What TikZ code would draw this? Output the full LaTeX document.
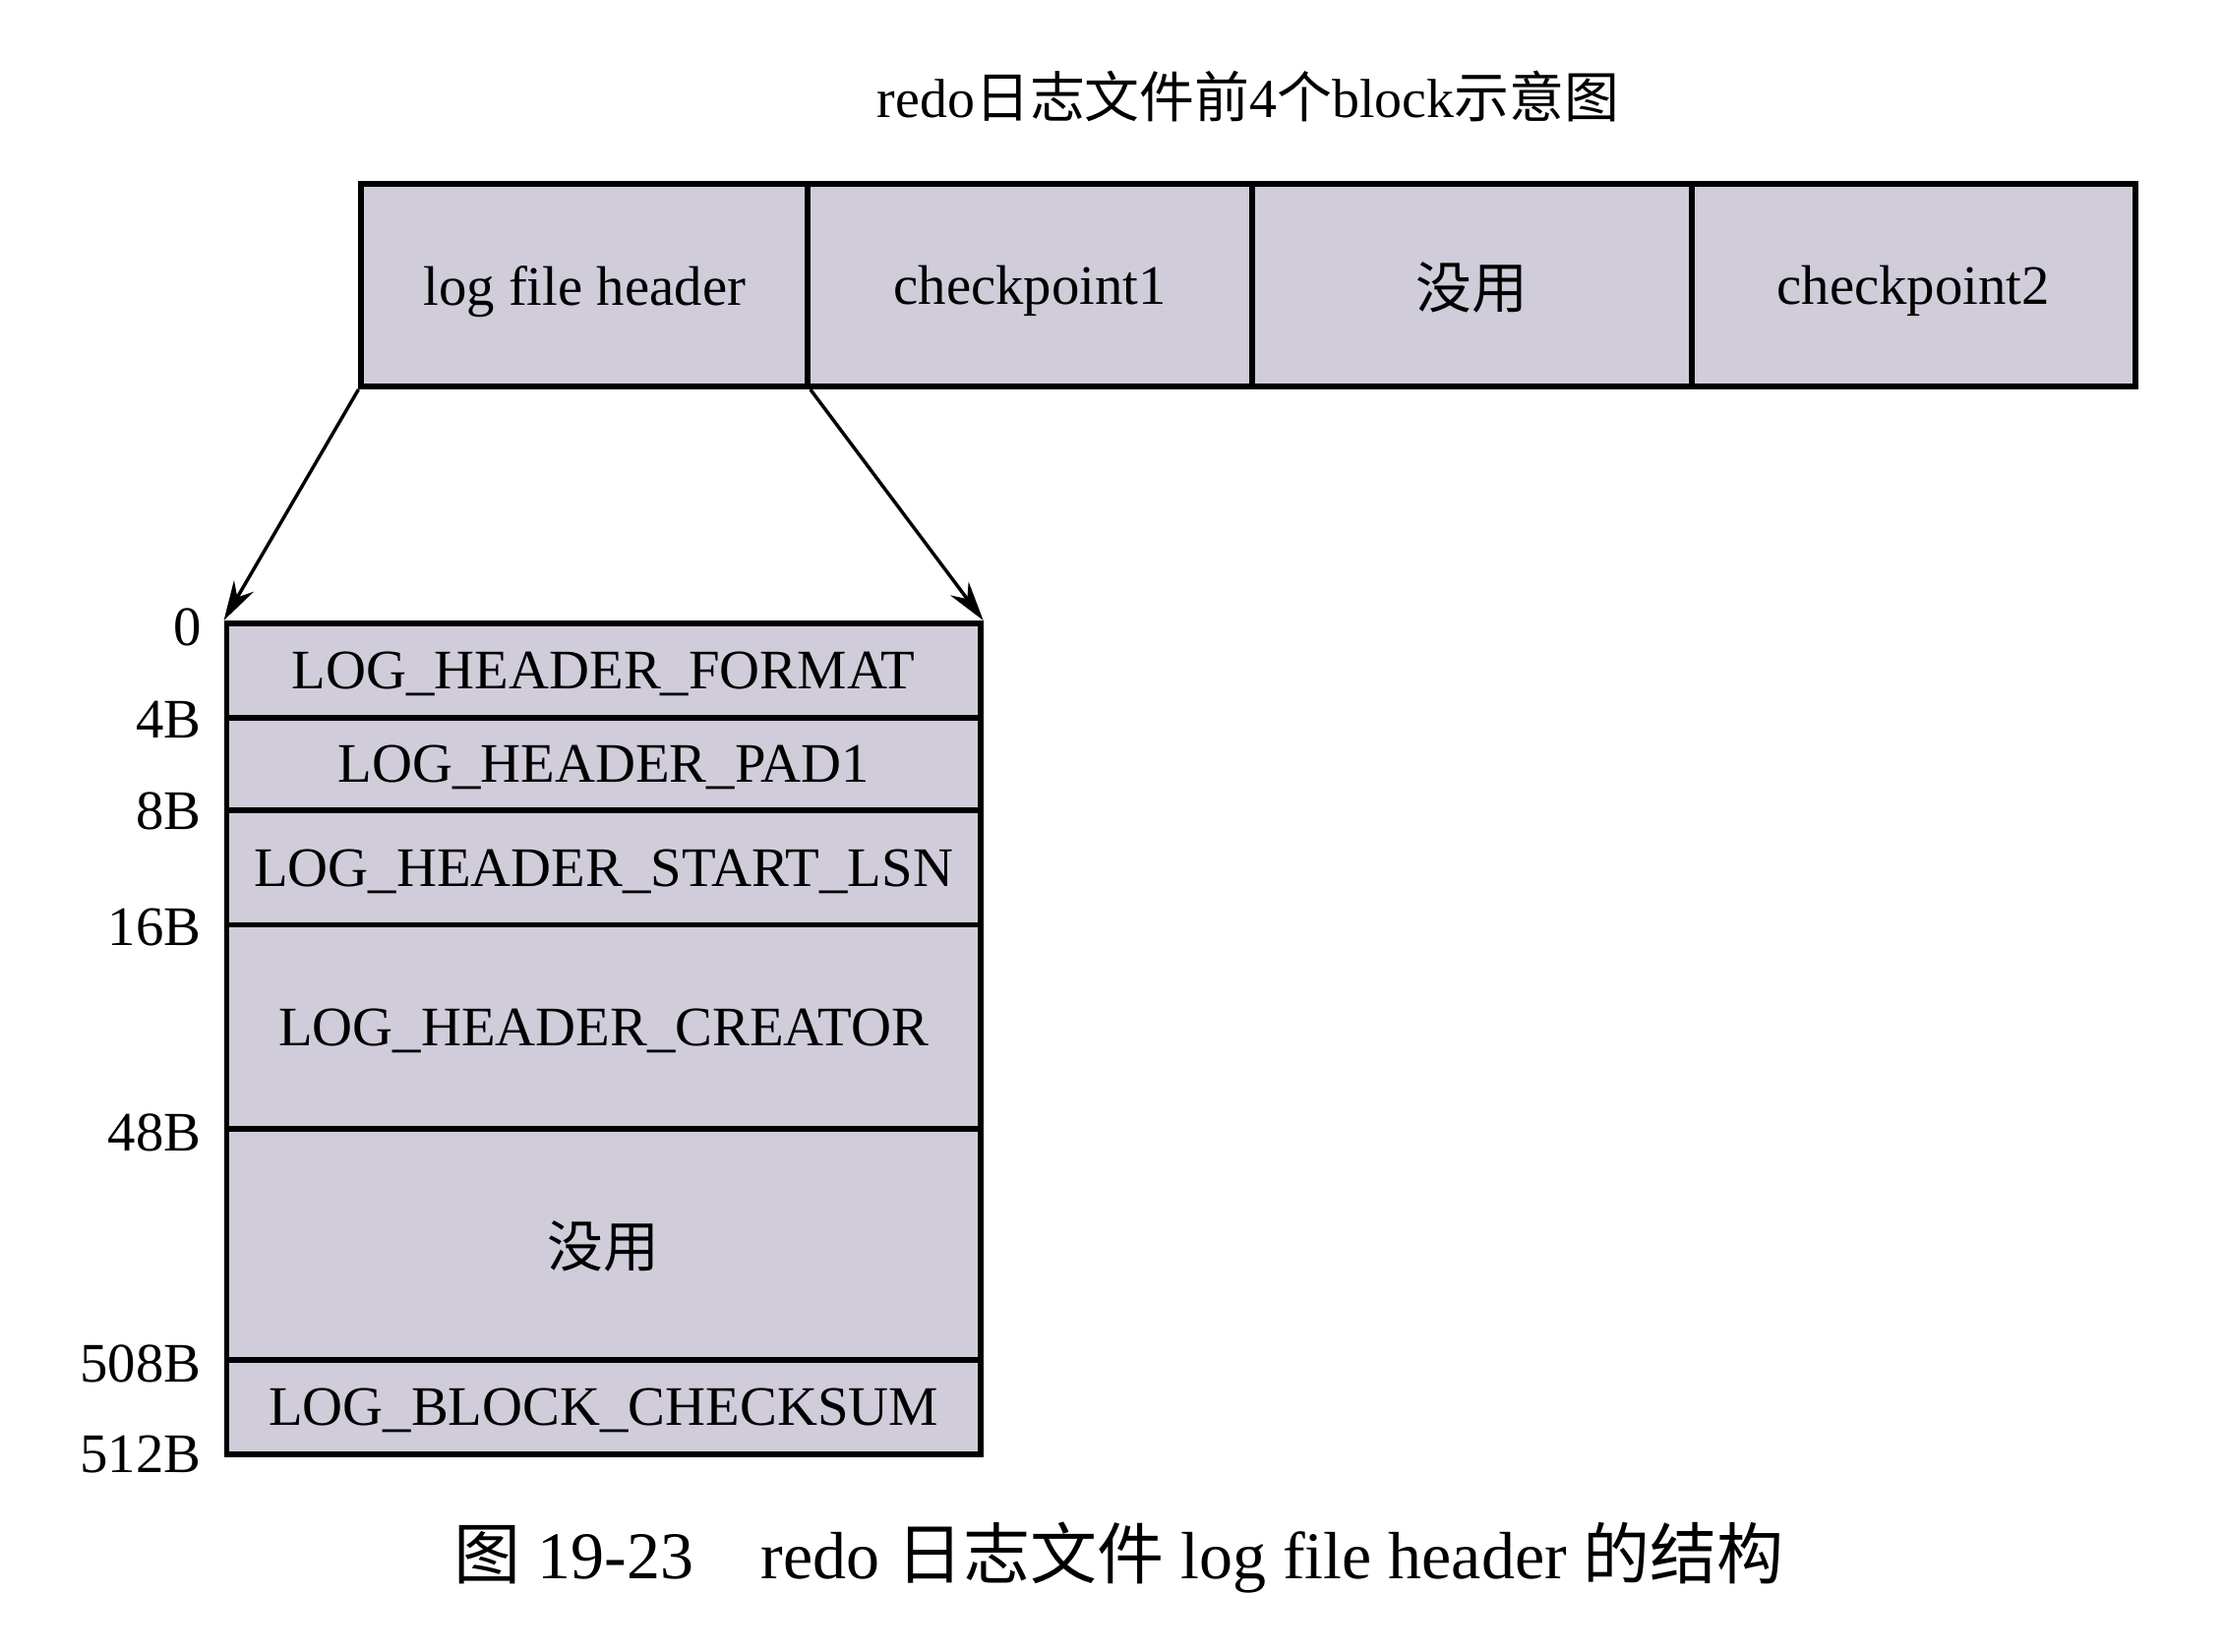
\documentclass[tikz,border=0pt]{standalone}
\usepackage{fontspec}
\setmainfont{Liberation Serif}
\newfontfamily\cjk{Noto Sans CJK SC}
\usetikzlibrary{arrows.meta}
\definecolor{blkfill}{RGB}{209,204,217}
\tikzset{every picture/.style={line width=1pt}}

\begin{document}
\begin{tikzpicture}[x=0.5pt,y=0.5pt,yscale=-1,
  blk/.style={draw, line width=2pt, fill=blkfill, inner sep=0pt, text depth=0pt, font=\fontsize{19.7}{19.7}\selectfont},
  offlbl/.style={anchor=east, inner sep=0pt, font=\fontsize{19.7}{19.7}\selectfont},
  zoomarrow/.style={-{Stealth[length=14pt,width=8pt]}, line width=1.2pt}]
\useasboundingbox (0,0) rectangle (1569,1166);
%Text: title
\node[font=\fontsize{19.4}{19.4}\selectfont] (title) at (881,68) {redo{\cjk 日志文件前}4{\cjk 个}block{\cjk 示意图}};
%Shape: first four blocks
\node[blk, minimum width=157.5pt, minimum height=71.5pt] (hdr) at (412.5,201.5) {log file header};
\node[blk, minimum width=157pt, minimum height=71.5pt] (cpa) at (727,201.5) {checkpoint1};
\node[blk, minimum width=155pt, minimum height=71.5pt] (unused) at (1039,201.5) {\cjk 没用};
\node[blk, minimum width=156.5pt, minimum height=71.5pt] (cpb) at (1350.5,201.5) {checkpoint2};
%Shape: log file header fields
\node[blk, minimum width=266pt, minimum height=33.5pt] (fmt) at (426,473.5) {LOG\_HEADER\_FORMAT};
\node[blk, minimum width=266pt, minimum height=32.5pt] (pad) at (426,539.5) {LOG\_HEADER\_PAD1};
\node[blk, minimum width=266pt, minimum height=40.5pt] (lsn) at (426,612.5) {LOG\_HEADER\_START\_LSN};
\node[blk, minimum width=266pt, minimum height=72pt] (crt) at (426,725) {LOG\_HEADER\_CREATOR};
\node[blk, minimum width=266pt, minimum height=81.5pt] (nouse) at (426,878.5) {\cjk 没用};
\node[blk, minimum width=266pt, minimum height=33.5pt] (csum) at (426,993.5) {LOG\_BLOCK\_CHECKSUM};
%Text: offsets
\node[offlbl] (o0) at (143,443) {0};
\node[offlbl] (o4) at (143,508) {4B};
\node[offlbl] (o8) at (143,573) {8B};
\node[offlbl] (o16) at (143,655) {16B};
\node[offlbl] (o48) at (143,800) {48B};
\node[offlbl] (o508) at (143,963) {508B};
\node[offlbl] (o512) at (143,1027) {512B};
%Straight Lines: zoom arrows
\draw[zoomarrow] (hdr.south west) -- (fmt.north west);
\draw[zoomarrow] (hdr.south east) -- (fmt.north east);
%Text: caption
\node[font=\fontsize{23.6}{23.6}\selectfont] (caption) at (790,1100) {{\cjk 图} 19-23\quad redo {\cjk 日志文件} log file header {\cjk 的结构}};
\end{tikzpicture}
\end{document}
